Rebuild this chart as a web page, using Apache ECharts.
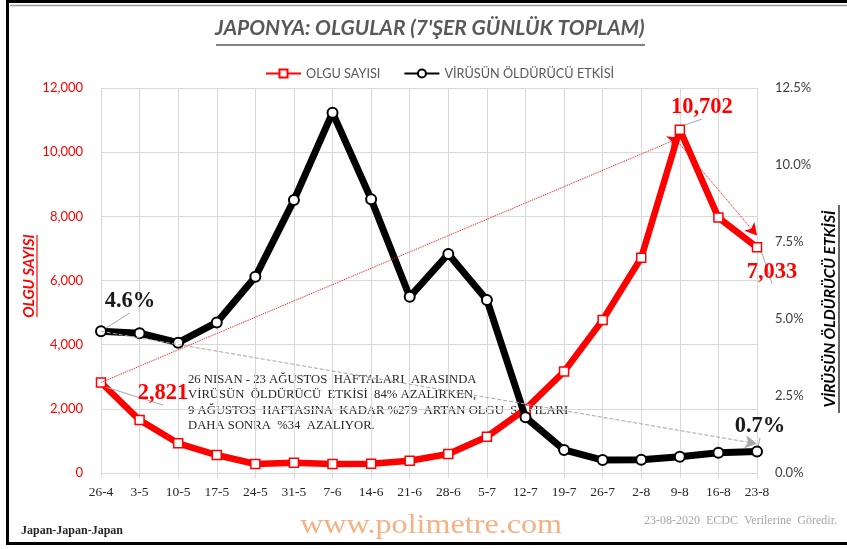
<!DOCTYPE html>
<html>
<head>
<meta charset="utf-8">
<script src="https://cdn.jsdelivr.net/npm/echarts@6/dist/echarts.min.js"></script>
<style>
  html, body { margin: 0; padding: 0; background: #fff; }
  #chart { width: 847px; height: 549px; }
</style>
</head>
<body>
<div id="chart"></div>
<script>
// haftalar (x ekseni)
var weeks = ['26-4', '3-5', '10-5', '17-5', '24-5', '31-5', '7-6', '14-6', '21-6', '28-6',
             '5-7', '12-7', '19-7', '26-7', '2-8', '9-8', '16-8', '23-8'];
// olgu sayisi (7 gunluk toplam)
var cases = [2821, 1650, 925, 560, 280, 320, 280, 290, 380, 590,
             1130, 1990, 3160, 4770, 6710, 10702, 7960, 7033];
// virusun oldurucu etkisi (%)
var lethality = [4.6, 4.54, 4.23, 4.89, 6.37, 8.86, 11.7, 8.89, 5.72, 7.11,
                 5.62, 1.81, 0.75, 0.42, 0.43, 0.53, 0.66, 0.7];
var leftTicks = [0, 2000, 4000, 6000, 8000, 10000, 12000];
var rightTicks = [0, 2.5, 5, 7.5, 10, 12.5];

// etiket gosterilecek noktalar
var caseLabels = { 0: [62, 11], 15: [22, -22], 17: [15, 25] };
var lethLabels = { 0: [29, -30], 17: [3, -25] };

var serifFont = '"Liberation Serif", "DejaVu Serif", serif';
var labelStyle = { fontFamily: serifFont, fontWeight: 'bold', fontSize: 22.5 };

function buildData(values, labels, color, fmt) {
  return values.map(function (v, i) {
    if (!labels[i]) return v;
    return {
      value: v,
      label: Object.assign({
        show: true, position: 'inside', offset: labels[i], color: color,
        formatter: fmt
      }, labelStyle)
    };
  });
}

var chart = echarts.init(document.getElementById('chart'));

var option = {
  animation: false,
  backgroundColor: '#fff',
  legend: {
    top: 62,
    left: 260,
    itemWidth: 35,
    itemHeight: 10,
    itemGap: 23,
    textStyle: { color: '#595959', fontSize: 12.7, fontFamily: 'Lato' },
    data: ['OLGU SAYISI', 'VİRÜSÜN ÖLDÜRÜCÜ ETKİSİ']
  },
  grid: { left: 101, right: 90, top: 88, bottom: 76 },
  xAxis: {
    type: 'category',
    data: weeks,
    boundaryGap: false,
    axisLine: { lineStyle: { color: '#d9d9d9' } },
    axisTick: { show: true, length: 5, lineStyle: { color: '#d9d9d9' } },
    axisLabel: { color: '#262626', fontSize: 13.5, fontFamily: serifFont, margin: 12 },
    splitLine: { show: true, lineStyle: { color: '#d9d9d9' } }
  },
  yAxis: [
    {
      type: 'value', min: leftTicks[0], max: leftTicks[leftTicks.length - 1], interval: 2000,
      axisLine: { show: false }, axisTick: { show: false },
      axisLabel: {
        color: '#ff0000', fontSize: 13, fontFamily: 'Lato', margin: 18,
        formatter: function (v) { return v.toLocaleString('en-US'); }
      },
      splitLine: { lineStyle: { color: '#d9d9d9' } }
    },
    {
      type: 'value', min: rightTicks[0], max: rightTicks[rightTicks.length - 1], interval: 2.5,
      axisLine: { show: false }, axisTick: { show: false },
      axisLabel: {
        color: '#404040', fontSize: 13, fontFamily: 'Lato', margin: 18,
        formatter: function (v) { return v.toFixed(1) + '%'; }
      },
      splitLine: { show: false }
    }
  ],
  series: [
    {
      name: 'OLGU SAYISI',
      type: 'line',
      yAxisIndex: 0,
      data: buildData(cases, caseLabels, '#ff0000', function (p) { return p.value.toLocaleString('en-US'); }),
      lineStyle: { color: '#ff0000', width: 6.5 },
      itemStyle: { color: '#fff', borderColor: '#ff0000', borderWidth: 1.5 },
      symbol: 'rect', symbolSize: 9, showAllSymbol: true,
      labelLine: { show: true, lineStyle: { color: '#a6a6a6', width: 1 } },
      markLine: {
        silent: true,
        symbol: ['none', 'arrow'], symbolSize: [10, 12],
        label: { show: false },
        lineStyle: { color: '#ff0000', type: 'dotted', width: 1 },
        data: [
          [{ coord: [weeks[0], cases[0]] }, { coord: [weeks[15], 10450] }],
          [{ coord: [weeks[15], 10250] }, { coord: [weeks[17], 7400] }]
        ]
      },
      z: 2
    },
    {
      name: 'VİRÜSÜN ÖLDÜRÜCÜ ETKİSİ',
      type: 'line',
      yAxisIndex: 1,
      data: buildData(lethality, lethLabels, '#1a1a1a', function (p) { return p.value.toFixed(1) + '%'; }),
      lineStyle: { color: '#000', width: 7 },
      itemStyle: { color: '#fff', borderColor: '#000', borderWidth: 2 },
      symbol: 'circle', symbolSize: 10, showAllSymbol: true,
      labelLine: { show: true, lineStyle: { color: '#a6a6a6', width: 1 } },
      markLine: {
        silent: true,
        symbol: ['none', 'arrow'], symbolSize: [10, 12],
        label: { show: false },
        lineStyle: { color: '#a6a6a6', type: 'dashed', width: 1 },
        data: [
          [{ coord: [weeks[0], lethality[0]] }, { coord: [weeks[17], 0.95] }]
        ]
      },
      z: 3
    }
  ],
  graphic: [
    // cerceve
    { type: 'rect', shape: { x: 7.5, y: 1.5, width: 850, height: 542 }, style: { fill: null, stroke: '#000', lineWidth: 3 }, z: 100 },
    { type: 'line', shape: { x1: 10, y1: 5.5, x2: 847, y2: 5.5 }, style: { stroke: '#999', lineWidth: 1.5 }, z: 100 },
    // baslik
    {
      type: 'text', left: 215, top: 18,
      style: {
        text: "JAPONYA: OLGULAR (7'ŞER GÜNLÜK TOPLAM)",
        fill: '#595959', font: 'italic bold 21px Lato'
      }
    },
    { type: 'line', shape: { x1: 216, y1: 45, x2: 645, y2: 45 }, style: { stroke: '#595959', lineWidth: 1.5 } },
    // sol eksen adi
    {
      type: 'group', x: 29, y: 276, rotation: Math.PI / 2,
      children: [
        { type: 'text', style: { text: 'OLGU SAYISI', fill: '#ff0000', font: 'italic bold 15px Lato', align: 'center', verticalAlign: 'middle' } },
        { type: 'line', shape: { x1: -41, y1: 8, x2: 41, y2: 8 }, style: { stroke: '#ff0000', lineWidth: 1.2 } }
      ]
    },
    // sag eksen adi
    {
      type: 'group', x: 830, y: 309, rotation: Math.PI / 2,
      children: [
        { type: 'text', style: { text: 'VİRÜSÜN ÖLDÜRÜCÜ ETKİSİ', fill: '#000', font: 'italic bold 15.6px Lato', align: 'center', verticalAlign: 'middle' } },
        { type: 'line', shape: { x1: -104, y1: 9, x2: 104, y2: 9 }, style: { stroke: '#000', lineWidth: 1.2 } }
      ]
    },
    // aciklama
    {
      type: 'text', left: 188, top: 372,
      style: {
        text: '26 NISAN - 23 AĞUSTOS  HAFTALARI  ARASINDA\nVİRÜSÜN  ÖLDÜRÜCÜ  ETKİSİ  84% AZALIRKEN,\n9 AĞUSTOS  HAFTASINA  KADAR %279  ARTAN OLGU  SAYILARI\nDAHA SONRA  %34  AZALIYOR.',
        fill: '#262626', font: '12.7px "Liberation Serif"', lineHeight: 15.3
      }
    },
    // alt yazilar
    { type: 'text', left: 21, top: 525, style: { text: 'Japan-Japan-Japan', fill: '#262626', font: 'bold 12px "Liberation Serif"' } },
    { type: 'text', x: 300, y: 512, scaleX: 1.19, style: { text: 'www.polimetre.com', fill: '#f4b183', font: '27px "Liberation Serif"' } },
    { type: 'text', right: 10, top: 515, style: { text: '23-08-2020  ECDC  Verilerine  Göredir.', fill: '#a6a6a6', font: '12px "Liberation Serif"' } }
  ]
};

chart.setOption(option);
</script>
</body>
</html>
